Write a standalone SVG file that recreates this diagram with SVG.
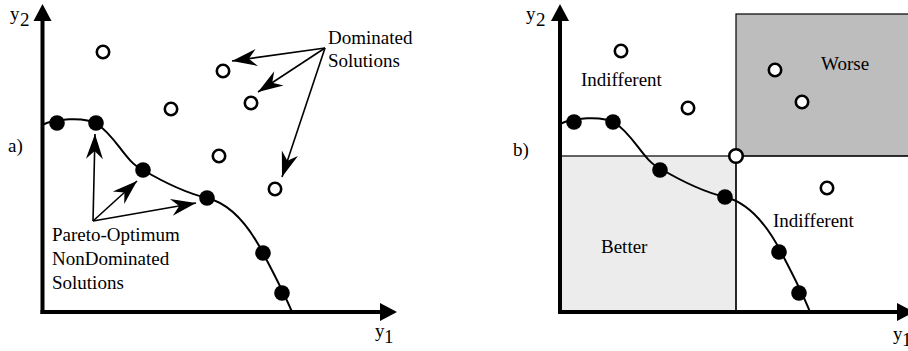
<svg xmlns="http://www.w3.org/2000/svg" width="908" height="351" viewBox="0 0 908 351">
<style>
text{font-family:"Liberation Serif","Times New Roman",serif;font-size:19px;fill:#000}
.axis{stroke:#000;stroke-width:4;fill:none}
.curve{stroke:#000;stroke-width:2;fill:none}
.conn{stroke:#000;stroke-width:1.6;fill:none;marker-end:url(#barb)}
.dom{fill:#fff;stroke:#000;stroke-width:2.6}
.nd{fill:#000}
.reg{stroke:#000;stroke-width:1.2}
</style>
<defs>
<marker id="barb" markerUnits="userSpaceOnUse" markerWidth="30" markerHeight="20" viewBox="-26 -10 28 20" refX="0" refY="0" orient="auto">
<path d="M0,0 L-25,-8.5 L-17,0 L-25,8.5 Z" fill="#000"/>
</marker>
<marker id="tri" markerUnits="userSpaceOnUse" markerWidth="20" markerHeight="20" viewBox="0 -10 18 20" refX="0" refY="0" orient="auto">
<path d="M0,-9 L17,0 L0,9 Z" fill="#000"/>
</marker>
</defs>

<!-- Panel b regions -->
<g id="region-better"><rect class="reg" x="560" y="156" width="176" height="156" fill="#ececec"/><text x="601" y="253">Better</text></g>
<g id="region-worse"><rect class="reg" x="736" y="14" width="180" height="142" fill="#bdbdbd"/><text x="821" y="70">Worse</text></g>
<g id="region-lines"><line class="reg" x1="736" y1="156" x2="908" y2="156"/><line class="reg" x1="736" y1="156" x2="736" y2="312"/></g>
<g id="label-indiff1"><text x="581" y="86">Indifferent</text></g>
<g id="label-indiff2"><text x="773" y="227">Indifferent</text></g>

<!-- Axes -->
<g id="axes-a">
<line class="axis" x1="42.5" y1="314" x2="42.5" y2="21" marker-end="url(#tri)"/>
<line class="axis" x1="40.5" y1="312" x2="380" y2="312" marker-end="url(#tri)"/>
<text x="10" y="20">y</text><text x="20" y="26">2</text>
<text x="375" y="337">y</text><text x="384" y="343">1</text>
<text x="8" y="152">a)</text>
</g>
<g id="axes-b">
<line class="axis" x1="560" y1="314" x2="560" y2="21" marker-end="url(#tri)"/>
<line class="axis" x1="558" y1="312" x2="897" y2="312" marker-end="url(#tri)"/>
<text x="526" y="20">y</text><text x="536" y="26">2</text>
<text x="893" y="340">y</text><text x="902" y="346">1</text>
<text x="513" y="156">b)</text>
</g>

<!-- Pareto front curves -->
<g id="front-a">
<path class="curve" d="M42,125 C54,119 84,116 97,124 C116,136 125,162 143,170 C160,180 182,192 207,198 C232,204 250,228 263,253 C273,272 285,295 292,312"/>
</g>
<g id="front-b">
<path class="curve" d="M560,124 C572,118 602,115 615,123 C634,135 643,161 661,169 C678,179 700,191 725,197 C750,203 768,227 781,252 C791,271 803,294 810,312"/>
</g>

<!-- Connectors -->
<g id="connectors">
<line class="conn" x1="325" y1="48" x2="232" y2="61"/>
<line class="conn" x1="325" y1="48" x2="258" y2="92"/>
<line class="conn" x1="325" y1="48" x2="282" y2="177"/>
<line class="conn" x1="93" y1="221" x2="95" y2="134"/>
<line class="conn" x1="93" y1="221" x2="137" y2="181"/>
<line class="conn" x1="93" y1="221" x2="196" y2="203"/>
</g>

<!-- Panel a points -->
<g id="nd-a">
<circle class="nd" cx="57" cy="123" r="7.8"/>
<circle class="nd" cx="96" cy="123" r="7.8"/>
<circle class="nd" cx="143" cy="170" r="7.8"/>
<circle class="nd" cx="207" cy="198" r="7.8"/>
<circle class="nd" cx="263" cy="253" r="7.8"/>
<circle class="nd" cx="282" cy="293" r="7.8"/>
</g>
<g id="dom-a">
<circle class="dom" cx="103" cy="52" r="6.2"/>
<circle class="dom" cx="171" cy="109" r="6.2"/>
<circle class="dom" cx="223" cy="71" r="6.2"/>
<circle class="dom" cx="251" cy="103" r="6.2"/>
<circle class="dom" cx="219" cy="156" r="6.2"/>
<circle class="dom" cx="275" cy="189" r="6.2"/>
</g>
<g id="label-dominated"><text x="328" y="44">Dominated</text><text x="328" y="67">Solutions</text></g>
<g id="label-pareto"><text x="52" y="241">Pareto-Optimum</text><text x="52" y="265">NonDominated</text><text x="52" y="289">Solutions</text></g>

<!-- Panel b points -->
<g id="nd-b">
<circle class="nd" cx="574" cy="122" r="7.8"/>
<circle class="nd" cx="613" cy="122" r="7.8"/>
<circle class="nd" cx="660" cy="170" r="7.8"/>
<circle class="nd" cx="725" cy="197" r="7.8"/>
<circle class="nd" cx="779" cy="252" r="7.8"/>
<circle class="nd" cx="799" cy="293" r="7.8"/>
</g>
<g id="dom-b">
<circle class="dom" cx="621" cy="51" r="6.2"/>
<circle class="dom" cx="688" cy="108" r="6.2"/>
<circle class="dom" cx="775" cy="70" r="6.2"/>
<circle class="dom" cx="802" cy="102" r="6.2"/>
<circle class="dom" cx="827" cy="188" r="6.2"/>
<circle class="dom" cx="736" cy="156" r="6.8"/>
</g>
</svg>
